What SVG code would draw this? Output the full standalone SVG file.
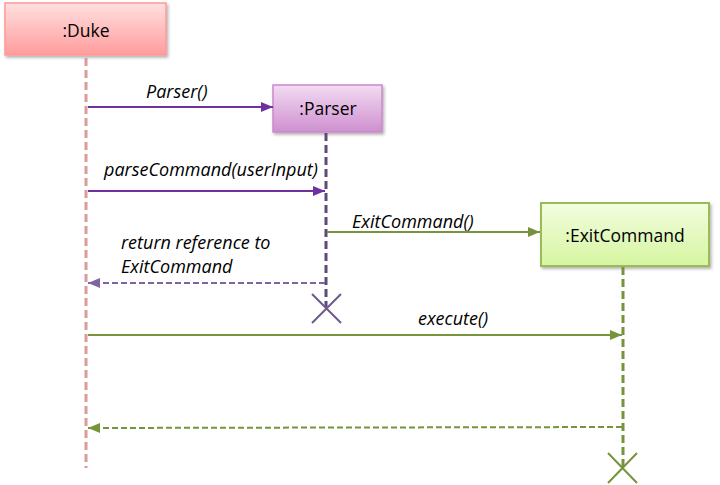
<svg xmlns="http://www.w3.org/2000/svg" width="720" height="485" viewBox="0 0 720 485">
<defs>
<linearGradient id="gDuke" x1="0" y1="0" x2="0" y2="1"><stop offset="0" stop-color="#ffe0e0"/><stop offset="1" stop-color="#ff9c9c"/></linearGradient>
<linearGradient id="gParser" x1="0" y1="0" x2="0" y2="1"><stop offset="0" stop-color="#f2dcf2"/><stop offset="1" stop-color="#cf8fd0"/></linearGradient>
<linearGradient id="gExit" x1="0" y1="0" x2="0" y2="1"><stop offset="0" stop-color="#f3fde0"/><stop offset="1" stop-color="#d6f5a0"/></linearGradient>
<filter id="sh" x="-10%" y="-10%" width="130%" height="140%"><feDropShadow dx="1.5" dy="2" stdDeviation="1.5" flood-color="#000" flood-opacity="0.3"/></filter>
<marker id="aP" viewBox="0 0 12 10" refX="12" refY="5" markerWidth="12" markerHeight="10" markerUnits="userSpaceOnUse" orient="auto"><path d="M0,0 L12,5 L0,10 Z" fill="#7030a0"/></marker>
<marker id="aPd" viewBox="0 0 12 10" refX="12" refY="5" markerWidth="12" markerHeight="10" markerUnits="userSpaceOnUse" orient="auto"><path d="M0,0 L12,5 L0,10 Z" fill="#8064a2"/></marker>
<marker id="aG" viewBox="0 0 12 10" refX="12" refY="5" markerWidth="12" markerHeight="10" markerUnits="userSpaceOnUse" orient="auto"><path d="M0,0 L12,5 L0,10 Z" fill="#77933c"/></marker>
</defs>
<style>
.lbl{font-family:"Open Sans","Liberation Sans",sans-serif;font-size:17.5px;fill:#000;text-anchor:middle}
.msg{font-family:"Open Sans","Liberation Sans",sans-serif;font-size:18px;font-style:italic;fill:#000}
.ll{fill:none;stroke-width:3;stroke-dasharray:8,4}
</style>
<rect width="720" height="485" fill="#fff"/>
<g id="duke">
<rect x="5" y="3" width="161" height="52" fill="url(#gDuke)" stroke="#ff9999" stroke-width="1.5" filter="url(#sh)"/>
<text class="lbl" x="86" y="37">:Duke</text>
<line class="ll" x1="86" y1="58" x2="86" y2="468" stroke="#dd9a9a"/>
</g>
<g id="parser">
<rect x="273" y="85" width="109" height="47" fill="url(#gParser)" stroke="#cc88cc" stroke-width="1.5" filter="url(#sh)"/>
<text class="lbl" x="328" y="115">:Parser</text>
<line class="ll" x1="326" y1="133" x2="326" y2="307" stroke="#604a7b"/>
<path d="M312,294 L341,323 M341,294 L312,323" stroke="#6e5a8c" stroke-width="2" fill="none"/>
</g>
<g id="exitcommand">
<rect x="541" y="203" width="168" height="63" fill="url(#gExit)" stroke="#9bbb59" stroke-width="2" filter="url(#sh)"/>
<text class="lbl" x="625" y="242">:ExitCommand</text>
<line class="ll" x1="623" y1="267" x2="623" y2="468" stroke="#77933c"/>
<path d="M608,453 L637,483 M637,453 L608,483" stroke="#77933c" stroke-width="2" fill="none"/>
</g>
<g id="connectors">
<line x1="88" y1="107" x2="273" y2="107" stroke="#7030a0" stroke-width="2" marker-end="url(#aP)"/>
<text class="msg" x="146" y="98">Parser()</text>
<line x1="88" y1="191" x2="325" y2="191" stroke="#7030a0" stroke-width="2" marker-end="url(#aP)"/>
<text class="msg" x="104" y="176">parseCommand(userInput)</text>
<line x1="327" y1="232" x2="540" y2="232" stroke="#77933c" stroke-width="2" marker-end="url(#aG)"/>
<text class="msg" x="352" y="228">ExitCommand()</text>
<line x1="325" y1="283" x2="88" y2="283" stroke="#8064a2" stroke-width="2" stroke-dasharray="6,3" marker-end="url(#aPd)"/>
<text class="msg" x="121" y="249">return reference to</text>
<text class="msg" x="121" y="273">ExitCommand</text>
<line x1="88" y1="335" x2="622" y2="335" stroke="#77933c" stroke-width="2" marker-end="url(#aG)"/>
<text class="msg" x="418" y="325">execute()</text>
<line x1="622" y1="427" x2="88" y2="428" stroke="#77933c" stroke-width="2" stroke-dasharray="6,3" marker-end="url(#aG)"/>
</g>
</svg>
